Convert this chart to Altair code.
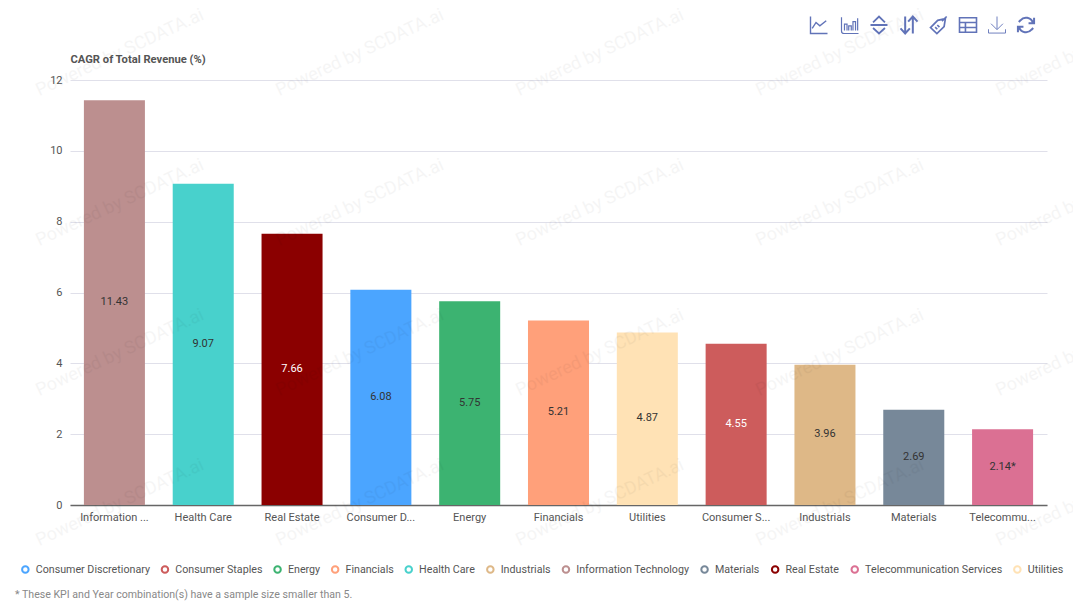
import altair as alt
import pandas as pd

FONT = "Roboto"

sectors = ["Information Technology", "Health Care", "Real Estate", "Consumer Discretionary", "Energy",
           "Financials", "Utilities", "Consumer Staples", "Industrials", "Materials",
           "Telecommunication Services"]
tick_labels = ["Information ...", "Health Care", "Real Estate", "Consumer D...", "Energy", "Financials",
               "Utilities", "Consumer S...", "Industrials", "Materials", "Telecommu..."]
values = [11.43, 9.07, 7.66, 6.08, 5.75, 5.21, 4.87, 4.55, 3.96, 2.69, 2.14]
value_labels = ["11.43", "9.07", "7.66", "6.08", "5.75", "5.21", "4.87", "4.55", "3.96", "2.69", "2.14*"]
label_colors = ["#333333", "#333333", "#ffffff", "#333333", "#333333", "#333333", "#333333",
                "#ffffff", "#333333", "#333333", "#333333"]
bar_colors = ["#BC8F8F", "#48D1CC", "#8B0000", "#4BA5FF", "#3CB371", "#FFA07A", "#FFE2B5",
              "#CD5C5C", "#DEB887", "#778899", "#DB7093"]

legend_order = ["Consumer Discretionary", "Consumer Staples", "Energy", "Financials", "Health Care",
                "Industrials", "Information Technology", "Materials", "Real Estate",
                "Telecommunication Services", "Utilities"]
legend_colors = ["#4BA5FF", "#CD5C5C", "#3CB371", "#FFA07A", "#48D1CC", "#DEB887", "#BC8F8F",
                 "#778899", "#8B0000", "#DB7093", "#FFE2B5"]

LEFT, TOP, W, H = 62, 72, 977, 425
OX, OY = LEFT + 8, TOP + 8  # page position of the plot origin

wm_x = [120, 360, 600, 840, 1080]
wm_y = [53, 203, 353, 503]

icon_x = [819, 850, 879, 909, 939, 968, 997, 1026]
icon_sw = [1.4, 1.2, 1.8, 2.0, 1.7, 1.6, 0.9, 2.0]
icon_paths = [
    "M-1 -1 L-1 1 L1 1 M-.8 .4 L-.35 -.3 L.1 .1 L.85 -.5",
    "M-1 -.9 L-1 .7 Q-1 1 -.7 1 L1 1 M-.65 .65 L-.65 -.1 L-.35 -.1 L-.35 .65 M-.15 .65 L-.15 .1 L.15 .1 L.15 .65 M.35 .65 L.35 -.4 L.65 -.4 L.65 .65 M.9 .65 L.9 -.8",
    "M-.7 -.3 L0 -1 L.7 -.3 M-1 0 L1 0 M-.7 .35 L0 1 L.7 .35",
    "M-.45 -1 L-.45 1 M-1 .4 L-.45 1 L.1 .4 M.45 1 L.45 -1 M-.1 -.4 L.45 -1 L1 -.4",
    "M-1 .3 L-.15 -.55 L.75 -.75 L.6 .2 L-.25 1 Z M-.45 .25 L-.2 .5 M-.2 0 L.05 .25 M.35 -.45 L.9 -1",
    "M-1 -.85 L1 -.85 L1 .85 L-1 .85 Z M-1 -.3 L1 -.3 M-1 .3 L1 .3 M-.3 -.3 L-.3 .85",
    "M0 -1 L0 .5 M-.7 -.15 L0 .55 L.7 -.15 M-1 .5 L-1 .95 L1 .95 L1 .5",
    "M.8 -.3 A.85 .85 0 0 0 -.65 -.55 L-.85 -.35 M-.8 .3 A.85 .85 0 0 0 .65 .55 L.85 .35 M.95 -.85 L.95 -.2 L.3 -.2 M-.95 .85 L-.95 .2 L-.3 .2",
]

footnote = "* These KPI and Year combination(s) have a sample size smaller than 5."

bars_df = pd.DataFrame({
    "sector": sectors, "tick": tick_labels, "value": values,
    "text": value_labels, "textcolor": label_colors,
})
bars_df["mid"] = bars_df["value"] / 2

wm_df = pd.DataFrame([{"px": x - OX, "py": y - OY, "t": "Powered by SCDATA.ai"} for y in wm_y for x in wm_x])
icons_df = pd.DataFrame({"px": [x - OX for x in icon_x], "py": [25 - OY] * len(icon_x),
                         "path": icon_paths, "sw": icon_sw})
foot_df = pd.DataFrame({"px": [15 - OX], "py": [594.5 - OY], "t": [footnote]})

x_enc = alt.X("tick:N", sort=tick_labels,
              scale=alt.Scale(paddingInner=0.313, paddingOuter=0.1565),
              axis=alt.Axis(title=None, labelAngle=0, ticks=False, domainColor="#666666", domainWidth=1.5,
                            labelColor="#555555", labelFontSize=11, labelFont=FONT, labelPadding=6,
                            labelOverlap=False, labelLimit=0, grid=False))
y_enc = alt.Y("value:Q", scale=alt.Scale(domain=[0, 12], nice=False),
              axis=alt.Axis(title="CAGR of Total Revenue (%)", titleAngle=0, titleAlign="left",
                            titleBaseline="middle", titleX=0, titleY=-21, titleFont=FONT, titleFontSize=11.2,
                            titleFontWeight="bold", titleColor="#555555",
                            values=[0, 2, 4, 6, 8, 10, 12], ticks=False, domain=False,
                            gridColor="#E0E0EA", gridWidth=1, labelColor="#555555", labelFont=FONT,
                            labelFontSize=11, labelPadding=8))

bars = alt.Chart(bars_df).mark_bar(strokeWidth=0).encode(
    x=x_enc, y=y_enc,
    fill=alt.Fill("sector:N", scale=alt.Scale(domain=sectors, range=bar_colors), legend=None),
)

labels = alt.Chart(bars_df).mark_text(font=FONT, fontSize=11, baseline="middle", dy=-0.5).encode(
    x=alt.X("tick:N", sort=tick_labels),
    y=alt.Y("mid:Q"),
    text="text:N",
    color=alt.Color("textcolor:N", scale=None),
)

legend_pts = alt.Chart(bars_df).mark_point(size=0, filled=False, strokeWidth=2, opacity=1).encode(
    x=alt.X("tick:N", sort=tick_labels),
    y=alt.Y("value:Q"),
    stroke=alt.Stroke("sector:N", scale=alt.Scale(domain=legend_order, range=legend_colors),
                      legend=alt.Legend(title=None, orient="none", legendX=20 - OX, legendY=564 - OY,
                                        direction="horizontal", columns=11, symbolType="circle", symbolSize=42,
                                        symbolStrokeWidth=2, symbolOpacity=1, labelFont=FONT, labelFontSize=10.7,
                                        labelColor="#555555", labelOffset=5, columnPadding=7.6)),
)

wm = alt.Chart(wm_df).mark_text(font=FONT, fontSize=18, angle=335, color="#000000", opacity=0.035,
                                align="center", baseline="middle", clip=False).encode(
    x=alt.X("px:Q", scale=None, axis=None),
    y=alt.Y("py:Q", scale=None, axis=None),
    text="t:N",
)

icons = alt.Chart(icons_df).mark_point(filled=False, size=289, color="#6173B8", opacity=1).encode(
    x=alt.X("px:Q", scale=None, axis=None),
    y=alt.Y("py:Q", scale=None, axis=None),
    shape=alt.Shape("path:N", scale=None),
    strokeWidth=alt.StrokeWidth("sw:Q", scale=None),
)

foot = alt.Chart(foot_df).mark_text(font=FONT, fontSize=10.6, color="#888888", align="left",
                                    baseline="middle").encode(
    x=alt.X("px:Q", scale=None, axis=None),
    y=alt.Y("py:Q", scale=None, axis=None),
    text="t:N",
)

chart = alt.layer(bars, labels, legend_pts, wm, icons, foot).properties(
    width=W, height=H,
    autosize=alt.AutoSizeParams(type="none"),
    padding={"left": LEFT, "top": TOP, "right": 26, "bottom": 97},
).configure_view(stroke=None)

chart.save("out.html", embed_options={"renderer": "svg", "actions": False})
